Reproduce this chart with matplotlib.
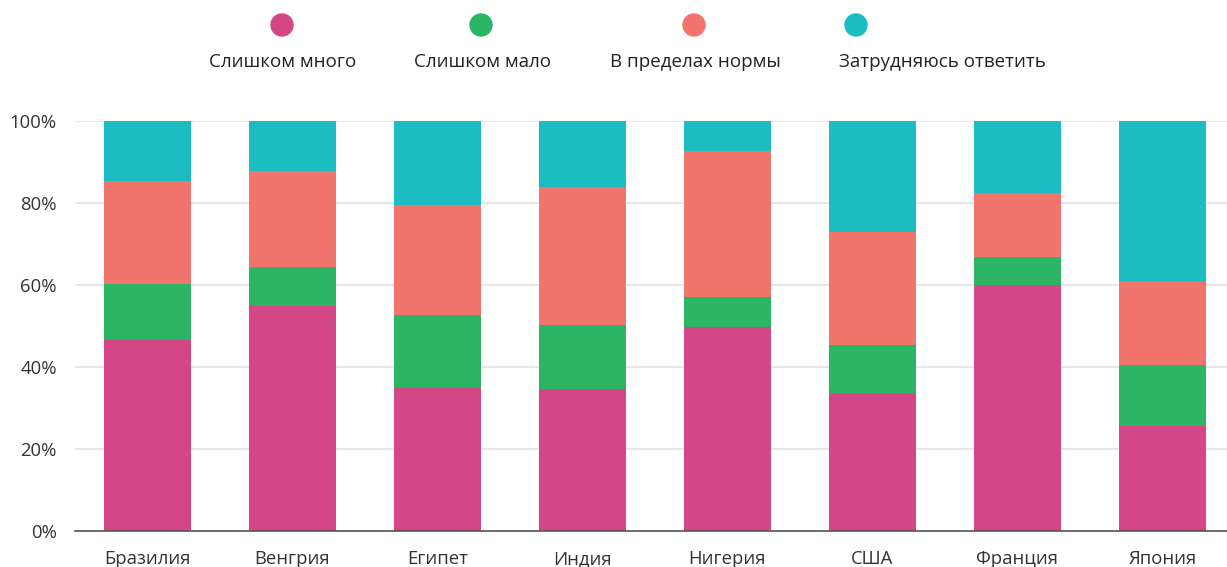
import numpy as np
import matplotlib
matplotlib.use("Agg")
from matplotlib import pyplot as plt
from matplotlib.patches import Ellipse

plt.rcParams['font.family'] = ['Open Sans', 'DejaVu Sans']

countries = ['Бразилия', 'Венгрия', 'Египет', 'Индия', 'Нигерия', 'США', 'Франция', 'Япония']
series_names = ['Слишком много', 'Слишком мало', 'В пределах нормы', 'Затрудняюсь ответить']

too_much = [46.7, 55.0, 35.0, 34.7, 49.8, 33.7, 60.0, 25.7]
too_little = [13.7, 9.4, 17.6, 15.6, 7.3, 11.7, 6.9, 14.8]
normal = [25.0, 23.5, 27.0, 33.7, 35.6, 27.7, 15.6, 20.5]
no_answer = [14.6, 12.1, 20.4, 16.0, 7.3, 26.9, 17.5, 39.0]

colors = ['#D34787', '#2DB566', '#F2756D', '#1BBDC2']

fig = plt.figure(figsize=(12.27, 5.67), dpi=100)
ax = fig.add_axes([75 / 1227, 1 - 531 / 567, 1152 / 1227, 409.7 / 567])

x = np.arange(len(countries))
bottom = np.zeros(len(countries))
for vals, c in zip([too_much, too_little, normal, no_answer], colors):
    ax.bar(x, vals, bottom=bottom, width=0.6, color=c, zorder=3)
    bottom += np.array(vals)

ax.set_xlim(-0.5, 7.445)
ax.set_ylim(0, 100)
ax.set_yticks([0, 20, 40, 60, 80, 100])
ax.set_yticklabels([f'{v}%' for v in [0, 20, 40, 60, 80, 100]])
ax.set_xticks(x)
ax.set_xticklabels(countries)
ax.tick_params(axis='both', length=0, labelsize=13.3, colors='#333333')
ax.tick_params(axis='y', pad=13)
ax.tick_params(axis='x', pad=14)
ax.grid(axis='y', color='#e3e3e3', linewidth=1.2, zorder=0)
for s in ['top', 'right', 'left']:
    ax.spines[s].set_visible(False)
ax.spines['bottom'].set_color('#555555')
ax.spines['bottom'].set_linewidth(1.2)
ax.spines['bottom'].set_zorder(4)

# legend drawn by hand
circle_x = [282, 481, 694, 856]
label_x = [283, 483, 695, 942]
for name, c, cx, lx in zip(series_names, colors, circle_x, label_x):
    fig.add_artist(Ellipse((cx / 1227, 1 - 25 / 567), 22 / 1227, 22 / 567,
                           transform=fig.transFigure, color=c))
    fig.text(lx / 1227, 1 - 62 / 567, name, ha='center', va='center', fontsize=13.5, color='#222222')

fig.savefig('out.png', dpi=100)
